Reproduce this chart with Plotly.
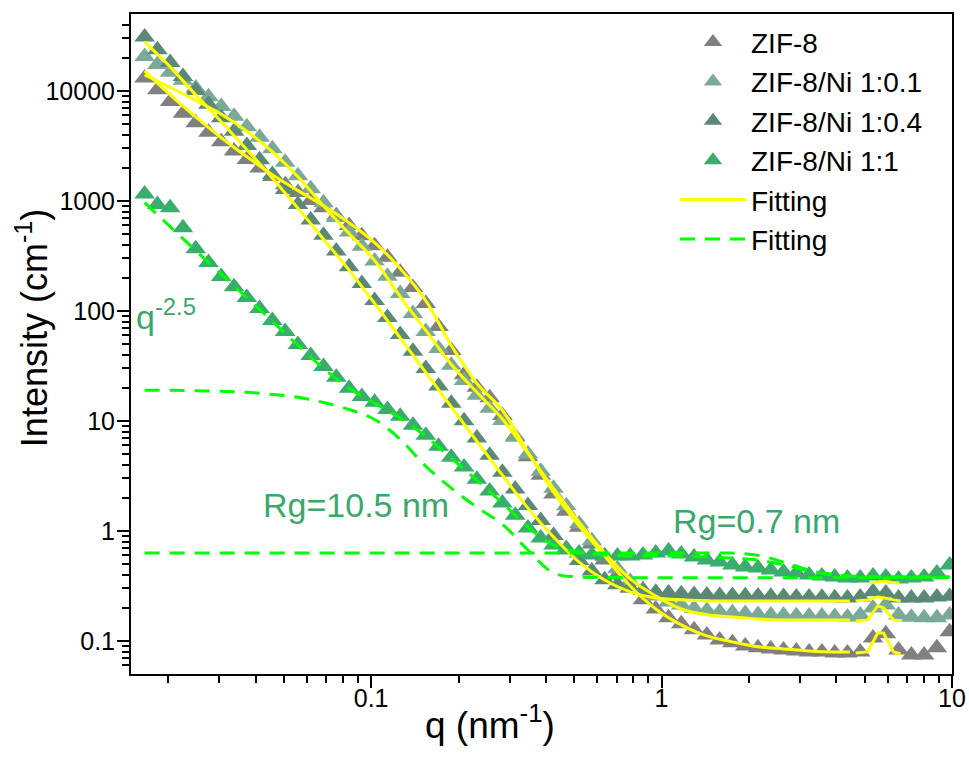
import math
import plotly.graph_objects as go

# ---------------- data ----------------
q = [0.0166, 0.01837, 0.02032, 0.02249, 0.02489, 0.02754, 0.03048, 0.03373, 0.03733, 0.04130,
     0.04571, 0.05058, 0.05598, 0.06194, 0.06855, 0.07586, 0.08395, 0.09290, 0.1028, 0.1138,
     0.1259, 0.1393, 0.1542, 0.1706, 0.1888, 0.2089, 0.2312, 0.2559, 0.2831, 0.3133,
     0.3467, 0.3837, 0.4246, 0.4699, 0.5200, 0.5754, 0.6368, 0.7047, 0.7798, 0.8630,
     0.9550, 1.057, 1.169, 1.294, 1.432, 1.585, 1.754, 1.941, 2.148, 2.377,
     2.630, 2.911, 3.221, 3.565, 3.945, 4.365, 4.831, 5.346, 5.916, 6.546,
     7.244, 8.017, 8.872, 9.817]

I_zif8 = [13120, 10250, 8010, 6250, 5130, 4200, 3440, 2840, 2380, 1990,
          1670, 1400, 1190, 1010, 867, 734, 596, 483, 392, 308,
          225, 163, 117, 72.2, 43.7, 26.2, 20.2, 16.2, 11.2, 7.25,
          4.72, 3.21, 2.16, 1.51, 1.08, 0.759, 0.543, 0.397, 0.303, 0.236,
          0.195, 0.162, 0.143, 0.126, 0.113, 0.102, 0.096, 0.090, 0.0864, 0.0846,
          0.0828, 0.0811, 0.0794, 0.0794, 0.0778, 0.0778, 0.0794, 0.1064, 0.116, 0.0828,
          0.0746, 0.0746, 0.0864, 0.121]

I_ni01 = [20550, 17380, 14790, 12480, 10620, 8830, 7210, 5890, 4710, 3780,
          2980, 2240, 1690, 1290, 964, 705, 521, 387, 284, 207,
          144, 94.6, 65, 45.6, 32, 23.3, 17.1, 13.0, 10.07, 7.11,
          4.99, 3.49, 2.44, 1.69, 1.16, 0.813, 0.590, 0.452, 0.346, 0.292,
          0.256, 0.226, 0.212, 0.198, 0.189, 0.183, 0.180, 0.177, 0.174, 0.172,
          0.171, 0.169, 0.168, 0.168, 0.167, 0.165, 0.172, 0.199, 0.212, 0.172,
          0.164, 0.162, 0.162, 0.172]

I_ni04 = [30900, 23650, 18100, 13520, 10060, 7560, 5690, 4290, 3180, 2360,
          1740, 1270, 925, 671, 486, 351, 252, 177, 124, 87.1,
          61.1, 42.9, 29.9, 20.8, 14.5, 10.05, 6.98, 4.86, 3.42, 2.40,
          1.70, 1.24, 0.910, 0.693, 0.537, 0.432, 0.360, 0.324, 0.303, 0.287,
          0.277, 0.273, 0.268, 0.264, 0.261, 0.259, 0.258, 0.257, 0.256, 0.254,
          0.253, 0.251, 0.250, 0.249, 0.247, 0.245, 0.251, 0.279, 0.273, 0.245,
          0.245, 0.245, 0.251, 0.254]

I_ni11 = [1156, 925, 867, 570, 368, 275, 205, 166, 132, 105,
          81.8, 65.0, 49.5, 39.4, 31.3, 24.9, 19.8, 16.7, 14.8, 12.7,
          11.0, 9.12, 7.40, 5.88, 4.68, 3.80, 2.95, 2.30, 1.79, 1.39,
          1.06, 0.861, 0.743, 0.670, 0.629, 0.603, 0.591, 0.591, 0.591, 0.603,
          0.629, 0.656, 0.616, 0.578, 0.543, 0.521, 0.490, 0.470, 0.460, 0.441,
          0.423, 0.414, 0.397, 0.389, 0.381, 0.373, 0.373, 0.389, 0.381, 0.366,
          0.373, 0.381, 0.414, 0.490]

# yellow fits
q_fit = [0.0166, 0.02032, 0.02489, 0.03048, 0.03733, 0.04571, 0.05598, 0.06855, 0.08395, 0.1028,
         0.1259, 0.1542, 0.1888, 0.2312, 0.2831, 0.3467, 0.4246, 0.5200, 0.6368, 0.7798,
         0.9550, 1.169, 1.432, 1.754, 2.148, 2.630, 3.221, 3.945, 4.45]
fit_zif8 = [15200, 9200, 5810, 3750, 2520, 1730, 1240, 904, 634, 418,
            243, 124, 48.5, 21.9, 12.5, 5.19, 2.25, 1.11, 0.590, 0.315,
            0.195, 0.140, 0.111, 0.098, 0.0883, 0.0846, 0.0811, 0.0794, 0.0794]
fit_ni01 = [13970, 10760, 8200, 6140, 4300, 2790, 1660, 898, 504, 287,
            135, 66.4, 32.6, 18.2, 10.4, 5.08, 2.44, 1.20, 0.629, 0.366,
            0.256, 0.195, 0.173, 0.165, 0.158, 0.155, 0.155, 0.155, 0.155]
fit_ni04 = [27860, 16520, 9200, 5240, 2920, 1610, 859, 449, 235, 117,
            56.8, 27.6, 13.4, 6.53, 3.21, 1.61, 0.879, 0.521, 0.358, 0.279,
            0.245, 0.236, 0.231, 0.231, 0.231, 0.231, 0.231, 0.231, 0.231]

q_bump = [4.66, 5.12, 5.55, 5.81, 6.29, 6.65]
bump_zif8 = [0.0778, 0.0794, 0.118, 0.118, 0.0794, 0.0763]
bump_ni01 = [0.149, 0.155, 0.208, 0.200, 0.155, 0.152]
bump_ni04 = [0.231, 0.236, 0.251, 0.247, 0.236, 0.231]
q_bump2 = [5.2, 5.6, 5.9, 6.2, 6.6]
bump_ni11 = [0.336, 0.345, 0.350, 0.340, 0.336]

# green dashed fits (1:1 sample)
q_dash = [0.0166, 0.02032, 0.02489, 0.03048, 0.03733, 0.04571, 0.05598, 0.06855, 0.08395, 0.1028,
          0.1259, 0.1542, 0.1888, 0.2312, 0.2831, 0.3467, 0.4246, 0.5200, 0.6368, 0.7798,
          0.9550, 1.169, 1.432, 1.754, 2.148, 2.630, 3.221, 3.945, 4.831, 5.916,
          7.244, 8.872, 9.817]
dash_total = [964, 583, 353, 216, 132, 80.2, 48.5, 30.0, 19.8, 14.5,
              10.6, 7.25, 4.58, 2.89, 1.79, 1.08, 0.743, 0.643, 0.603, 0.591,
              0.591, 0.591, 0.578, 0.566, 0.543, 0.490, 0.432, 0.397, 0.381, 0.381,
              0.381, 0.381, 0.381]
dash_rg105 = [19.0, 19.0, 18.8, 18.6, 18.2, 17.4, 16.4, 14.7, 12.7, 10.3,
              6.81, 3.87, 2.45, 1.64, 1.15, 0.670, 0.414, 0.381, 0.378, 0.376,
              0.375, 0.375, 0.375, 0.375, 0.375, 0.375, 0.375, 0.375, 0.375, 0.375,
              0.375, 0.375, 0.375]
dash_rg07 = [0.629, 0.629, 0.629, 0.629, 0.629, 0.629, 0.629, 0.629, 0.629, 0.629,
             0.629, 0.629, 0.629, 0.629, 0.629, 0.629, 0.629, 0.629, 0.629, 0.629,
             0.629, 0.629, 0.629, 0.629, 0.600, 0.520, 0.440, 0.400, 0.385, 0.381,
             0.381, 0.381, 0.381]

series_names = ["ZIF-8", "ZIF-8/Ni 1:0.1", "ZIF-8/Ni 1:0.4", "ZIF-8/Ni 1:1"]
series_colors = ["#808080", "#7aaa96", "#5a8a77", "#3aac6c"]

x_tickvals = [0.1, 1, 10]
x_ticktext = ["0.1", "1", "10"]
y_tickvals = [0.1, 1, 10, 100, 1000, 10000]
y_ticktext = ["0.1", "1", "10", "100", "1000", "10000"]

# ---------------- figure ----------------
FONT = "Liberation Sans, Arial, sans-serif"
YELLOW = "#ffff00"
LIME = "#00ff00"
ANN = "#3ba86b"

fig = go.Figure()
for name, vals, col in zip(series_names, [I_zif8, I_ni01, I_ni04, I_ni11], series_colors):
    fig.add_trace(go.Scatter(x=q, y=vals, mode="markers", name=name,
                             marker=dict(symbol="triangle-up", size=18, color=col, line=dict(width=0))))

first = True
for vals in [fit_zif8, fit_ni01, fit_ni04]:
    fig.add_trace(go.Scatter(x=q_fit, y=vals, mode="lines", name="Fitting", showlegend=first,
                             line=dict(color=YELLOW, width=3, shape="spline")))
    first = False
for qq, vals in [(q_bump, bump_zif8), (q_bump, bump_ni01), (q_bump, bump_ni04), (q_bump2, bump_ni11)]:
    fig.add_trace(go.Scatter(x=qq, y=vals, mode="lines", showlegend=False,
                             line=dict(color=YELLOW, width=3)))

first = True
for vals in [dash_total, dash_rg105, dash_rg07]:
    fig.add_trace(go.Scatter(x=q_dash, y=vals, mode="lines", name="Fitting", showlegend=first,
                             line=dict(color=LIME, width=3, dash="15px,10px", shape="spline")))
    first = False

minor_x = [m * 10 ** e for e in (-2, -1, 0) for m in range(2, 10) if m * 10 ** e > 0.015]
minor_y = [m * 10 ** e for e in (-2, -1, 0, 1, 2, 3, 4) for m in range(2, 10)
           if 0.05 < m * 10 ** e < 50000]

axis_common = dict(showgrid=False, zeroline=False, showline=True, linecolor="black", linewidth=2,
                   mirror=True, ticks="outside", ticklen=12, tickwidth=2, tickcolor="black",
                   tickfont=dict(size=25, color="black", family=FONT))

fig.update_xaxes(type="log", range=[math.log10(0.0149), 1.0], tickmode="array",
                 tickvals=x_tickvals, ticktext=x_ticktext, ticklabelstandoff=-11,
                 minor=dict(ticks="outside", ticklen=7, tickwidth=1.5, tickcolor="black",
                            tickmode="array", tickvals=minor_x, showgrid=False),
                 **axis_common)
fig.update_yaxes(type="log", range=[math.log10(0.05), math.log10(50000)], tickmode="array",
                 tickvals=y_tickvals, ticktext=y_ticktext, ticklabelstandoff=-3,
                 minor=dict(ticks="outside", ticklen=7, tickwidth=1.5, tickcolor="black",
                            tickmode="array", tickvals=minor_y, showgrid=False),
                 **axis_common)

fig.update_layout(
    width=969, height=762,
    margin=dict(l=131, r=17, t=14, b=88, autoexpand=False),
    paper_bgcolor="white", plot_bgcolor="white",
    font=dict(family=FONT, size=25, color="black"),
    legend=dict(x=0.6626, y=0.995, xanchor="left", yanchor="top", bgcolor="rgba(0,0,0,0)",
                font=dict(size=28, family=FONT, color="black"), itemwidth=66,
                tracegroupgap=0),
    annotations=[
        dict(text="q (nm<sup>-1</sup>)", xref="paper", yref="paper", x=0.437, y=-0.073,
             showarrow=False, font=dict(size=37, family=FONT, color="black"),
             xanchor="center", yanchor="middle"),
        dict(text="Intensity (cm<sup>-1</sup>)", xref="paper", yref="paper", x=-0.1206, y=0.524,
             textangle=-90, showarrow=False, font=dict(size=36, family=FONT, color="black"),
             xanchor="center", yanchor="middle"),
        dict(text="q<sup>-2.5</sup>", xref="paper", yref="paper", x=0.004, y=0.545,
             showarrow=False, font=dict(size=34, family=FONT, color=ANN),
             xanchor="left", yanchor="middle"),
        dict(text="Rg=10.5 nm", xref="paper", yref="paper", x=0.274, y=0.256,
             showarrow=False, font=dict(size=34, family=FONT, color=ANN),
             xanchor="center", yanchor="middle"),
        dict(text="Rg=0.7 nm", xref="paper", yref="paper", x=0.762, y=0.232,
             showarrow=False, font=dict(size=34, family=FONT, color=ANN),
             xanchor="center", yanchor="middle"),
    ],
)

fig.write_html("out.html")
